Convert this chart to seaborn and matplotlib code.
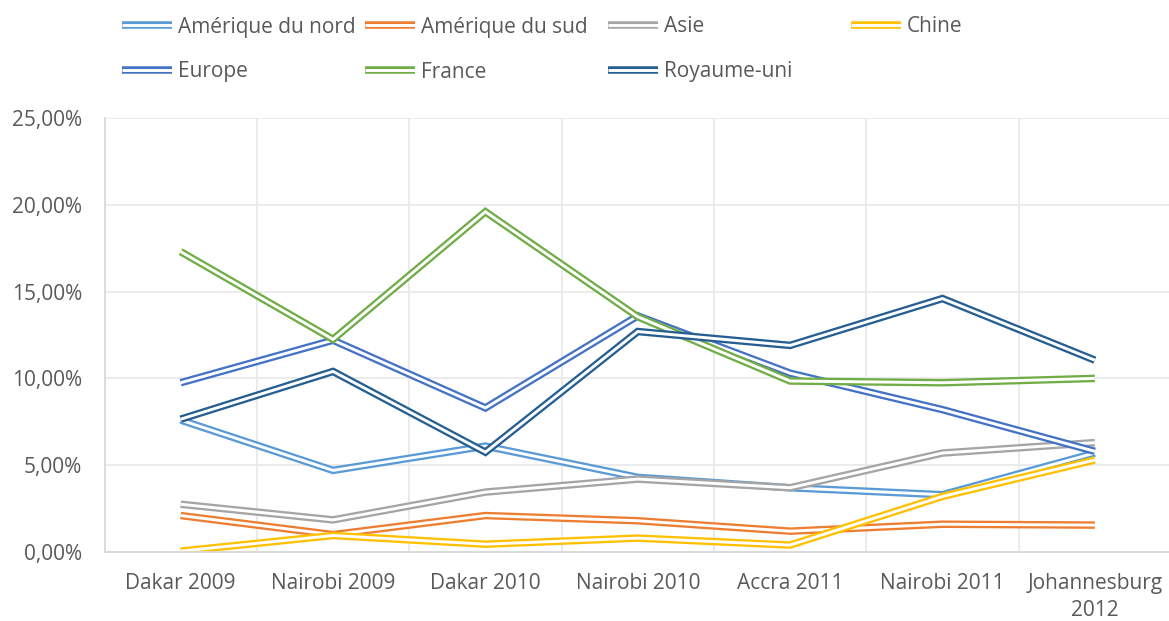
import matplotlib
matplotlib.use("Agg")
import matplotlib.pyplot as plt
import matplotlib.patheffects as pe
from matplotlib.ticker import FuncFormatter, MultipleLocator
import seaborn as sns
import pandas as pd

# Data (percent values)
categories = ["Dakar 2009", "Nairobi 2009", "Dakar 2010", "Nairobi 2010",
              "Accra 2011", "Nairobi 2011", "Johannesburg\n2012"]
amerique_nord = [7.6, 4.7, 6.1, 4.3, 3.7, 3.3, 5.7]
amerique_sud = [2.1, 1.0, 2.1, 1.8, 1.2, 1.6, 1.55]
asie = [2.75, 1.85, 3.45, 4.2, 3.7, 5.7, 6.3]
chine = [0.05, 0.95, 0.45, 0.8, 0.4, 3.2, 5.3]
europe = [9.75, 12.2, 8.3, 13.6, 10.3, 8.2, 5.8]
france = [17.3, 12.25, 19.6, 13.55, 9.85, 9.75, 10.0]
royaume_uni = [7.65, 10.4, 5.75, 12.7, 11.9, 14.6, 11.05]

series = {
    "Amérique du nord": amerique_nord,
    "Amérique du sud": amerique_sud,
    "Asie": asie,
    "Chine": chine,
    "Europe": europe,
    "France": france,
    "Royaume-uni": royaume_uni,
}
colors = ["#5B9BD5", "#ED7D31", "#A5A5A5", "#FFC000",
          "#4472C4", "#70AD47", "#255E91"]

rows = []
for name, vals in series.items():
    for i, v in enumerate(vals):
        rows.append({"serie": name, "pos": i, "valeur": v / 100})
df = pd.DataFrame(rows)

sns.set_style("white")
plt.rcParams["font.family"] = ["Open Sans", "DejaVu Sans"]
text_color = "#595959"
grid_color = "#EBEBEB"
axis_color = "#D9D9D9"

fig = plt.figure(figsize=(11.69, 6.21), dpi=100)
W, H = 1169, 621
left, right, top, bottom = 104.5, 1171, 118, 552
ax = fig.add_axes([left / W, 1 - bottom / H, (right - left) / W, (bottom - top) / H])

sns.lineplot(data=df, x="pos", y="valeur", hue="serie",
             palette=colors, hue_order=list(series.keys()),
             sort=False, legend=False, ax=ax)

# Excel-style double lines: coloured stroke with a white core
for line, c in zip(ax.lines, colors):
    line.set_color("white")
    line.set_linewidth(2.1)
    line.set_solid_capstyle("butt")
    line.set_solid_joinstyle("miter")
    line.set_path_effects([pe.Stroke(linewidth=5.4, foreground=c), pe.Normal()])

ax.set_xlim(-0.5, len(categories) - 0.5)
ax.set_ylim(0, 0.25)
ax.set_xticks(range(len(categories)))
ax.set_xticklabels(categories, linespacing=1.4)
ax.set_xticks([i + 0.5 for i in range(len(categories) - 1)], minor=True)
ax.yaxis.set_major_locator(MultipleLocator(0.05))
ax.yaxis.set_major_formatter(FuncFormatter(lambda v, p: f"{v*100:.2f}%".replace(".", ",")))

ax.grid(False)
ax.grid(True, axis="y", which="major", color=grid_color, linewidth=1.4)
ax.grid(True, axis="x", which="minor", color=grid_color, linewidth=1.4)
for s in ["top", "right"]:
    ax.spines[s].set_visible(False)
for s in ["left", "bottom"]:
    ax.spines[s].set_color(axis_color)
    ax.spines[s].set_linewidth(1.3)
ax.set_axisbelow(True)

ax.tick_params(axis="both", which="both", length=0, labelsize=15, labelcolor=text_color)
ax.tick_params(axis="y", pad=16)
ax.tick_params(axis="x", pad=15)
ax.set_xlabel("")
ax.set_ylabel("")

# Legend laid out on a regular 4-column grid, like Excel
for i, (line, name) in enumerate(zip(ax.lines, series.keys())):
    col, row = i % 4, i // 4
    lx = (122 + 243 * col) / W
    ly = 1 - (27 + 45 * row) / H
    leg = fig.legend([line], [name], loc="center left", bbox_to_anchor=(lx, ly),
                     frameon=False, fontsize=15, handlelength=2.4,
                     handletextpad=0.3, borderpad=0, borderaxespad=0)
    for t in leg.get_texts():
        t.set_color(text_color)

fig.savefig("out.png", dpi=100)
